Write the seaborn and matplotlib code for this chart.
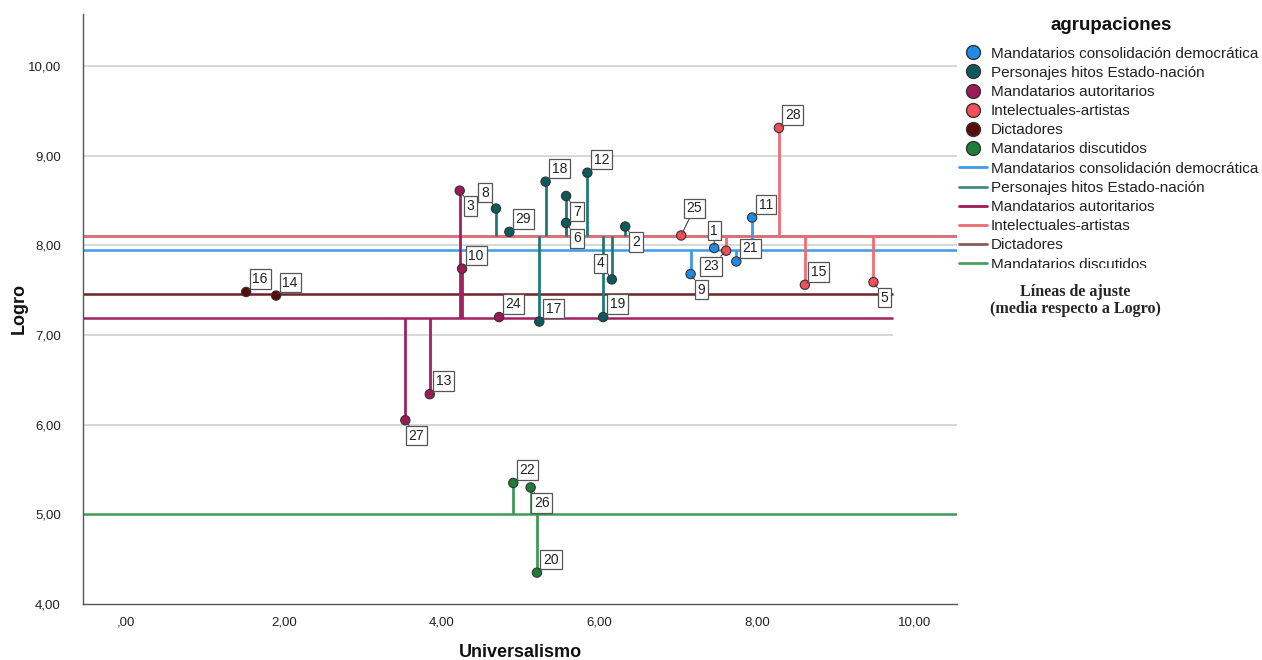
import pandas as pd
import numpy as np
import seaborn as sns
import matplotlib.pyplot as plt
from matplotlib.lines import Line2D
from matplotlib.patches import Rectangle
from matplotlib.ticker import FuncFormatter

# data
ids = list(range(1, 30))
universalismo = [7.46, 6.33, 4.23, 6.16, 9.48, 5.58, 5.58, 4.69, 7.16, 4.26,
                 7.94, 5.85, 3.85, 1.90, 8.61, 1.52, 5.24, 5.32, 6.05, 5.21,
                 7.74, 4.91, 7.61, 4.73, 7.04, 5.13, 3.54, 8.28, 4.86]
logro = [7.97, 8.21, 8.61, 7.62, 7.59, 8.25, 8.55, 8.41, 7.68, 7.74,
         8.31, 8.81, 6.34, 7.44, 7.56, 7.48, 7.15, 8.71, 7.20, 4.35,
         7.82, 5.35, 7.94, 7.20, 8.11, 5.30, 6.05, 9.31, 8.15]

g_dem = 'Mandatarios consolidación democrática'
g_hit = 'Personajes hitos Estado-nación'
g_aut = 'Mandatarios autoritarios'
g_int = 'Intelectuales-artistas'
g_dic = 'Dictadores'
g_dis = 'Mandatarios discutidos'
grupos = [g_dem, g_hit, g_aut, g_int, g_dic, g_dis]

grupo = [g_dem, g_hit, g_aut, g_hit, g_int, g_hit, g_hit, g_hit, g_dem, g_aut,
         g_dem, g_hit, g_aut, g_dic, g_int, g_dic, g_hit, g_hit, g_hit, g_dis,
         g_dem, g_dis, g_int, g_aut, g_int, g_dis, g_aut, g_int, g_hit]

# styles
marker_col = {g_dem: '#1e8ce6', g_hit: '#0b5a5c', g_aut: '#9c1a58',
              g_int: '#f44e57', g_dic: '#5a0b0e', g_dis: '#1f7d3b'}
line_col = {g_dem: '#3d9be9', g_hit: '#217a72', g_aut: '#a3205e',
            g_int: '#f26b74', g_dic: '#6e2227', g_dis: '#3f9a58'}
legend_line_col = {g_dem: '#3d9be9', g_hit: '#3f8c84', g_aut: '#a01855',
                   g_int: '#f06a72', g_dic: '#8b5a5a', g_dis: '#4aa060'}
short_line = {g_dic: 9.73, g_aut: 9.73}   # these two fit lines stop early

# label offsets in screen pixels (dx right, dy down)
ur, dr, ul = (14, -13), (11, 15.5), (-11, -16)
offsets = {i: ur for i in ids}
offsets.update({2: dr, 3: dr, 5: dr, 6: dr, 7: dr, 9: dr, 26: dr, 27: dr,
                4: ul, 8: ul, 1: (0, -17.5), 23: (-15, 15.7), 25: (13, -27)})

df = pd.DataFrame({'id': ids, 'Universalismo': universalismo,
                   'Logro': logro, 'grupo': grupo})
medias = df.groupby('grupo')['Logro'].mean()

sns.set_theme(style='white')
plt.rcParams['font.family'] = ['Liberation Sans', 'DejaVu Sans']

fig = plt.figure(figsize=(12.62, 6.6), dpi=100)
ax = fig.add_axes([83 / 1262, 56 / 660, 874 / 1262, 590 / 660])
xmin, xmax = -0.55, 10.54
ax.set_xlim(xmin, xmax)
ax.set_ylim(4, 10.58)

# gridlines
for yv in [6, 8, 9, 10]:
    ax.hlines(yv, xmin, xmax, color='#d4d4d4', lw=1.3, zorder=1)
ax.hlines(7, xmin, 9.73, color='#d4d4d4', lw=1.3, zorder=1)

# fit lines (group means)
for g in grupos:
    ax.hlines(medias[g], xmin, short_line.get(g, xmax), color=line_col[g],
              lw=1.8, zorder=2)

# spikes to the mean
for g in grupos:
    sub = df[df['grupo'] == g]
    ax.vlines(sub['Universalismo'], medias[g], sub['Logro'],
              color=line_col[g], lw=2, zorder=3)

sns.scatterplot(data=df, x='Universalismo', y='Logro', hue='grupo',
                hue_order=grupos, palette=marker_col, s=45, edgecolor='#333333',
                linewidth=0.8, legend=False, ax=ax, zorder=5)

for _, r in df.iterrows():
    dx, dy = offsets[r['id']]
    ax.annotate(str(r['id']), (r['Universalismo'], r['Logro']),
                xytext=(dx, -dy), textcoords='offset pixels',
                ha='center', va='center', fontsize=10, color='#222222',
                bbox=dict(boxstyle='square,pad=0.2', fc='white', ec='#555555', lw=0.9),
                arrowprops=dict(arrowstyle='-', color='#444444', lw=0.8,
                                shrinkA=0, shrinkB=2),
                zorder=6)

fmt = FuncFormatter(lambda v, p: ',00' if v == 0 else f'{v:.2f}'.replace('.', ','))
ax.set_xticks([0, 2, 4, 6, 8, 10])
ax.set_yticks([4, 5, 6, 7, 8, 9, 10])
ax.xaxis.set_major_formatter(fmt)
ax.yaxis.set_major_formatter(fmt)
ax.tick_params(axis='both', length=0, labelsize=9.5, labelcolor='#222222')
ax.tick_params(axis='x', pad=9)
ax.tick_params(axis='y', pad=16)

for s in ['top', 'right']:
    ax.spines[s].set_visible(False)
for s in ['left', 'bottom']:
    ax.spines[s].set_color('#555555')
    ax.spines[s].set_linewidth(1)

ax.set_xlabel('Universalismo', fontsize=13, fontweight='bold', color='#111111', labelpad=11)
ax.set_ylabel('Logro', fontsize=13, fontweight='bold', color='#111111', labelpad=0)

# legend
handles = [Line2D([], [], ls='none', marker='o', markersize=10,
                  markerfacecolor=marker_col[g], markeredgecolor='#333333',
                  markeredgewidth=1, label=g) for g in grupos]
handles += [Line2D([], [], color=legend_line_col[g], lw=2, label=g) for g in grupos]
leg = fig.legend(handles=handles, loc='upper left', bbox_to_anchor=(959 / 1262, 1 - 46.5 / 660),
                 frameon=False, fontsize=11, handlelength=1.8, handletextpad=0.3,
                 labelspacing=0.34, borderaxespad=0, borderpad=0)
for t in leg.get_texts():
    t.set_color('#222222')

fig.text(1111 / 1262, 1 - 25 / 660, 'agrupaciones', ha='center', va='center',
         fontsize=13.5, fontweight='bold', color='#111111')

# the last legend entry is cut off in the original
fig.patches.append(Rectangle((952 / 1262, 1 - 280 / 660), 310 / 1262, 12.5 / 660,
                             transform=fig.transFigure, fc='white', ec='none', zorder=10))

fig.text(1075 / 1262, 1 - 300.5 / 660, 'Líneas de ajuste\n(media respecto a Logro)',
         ha='center', va='center', fontsize=11.6, fontweight='bold',
         family=['Liberation Serif', 'DejaVu Serif'], linespacing=1.08)

fig.savefig('out.png', dpi=100)
